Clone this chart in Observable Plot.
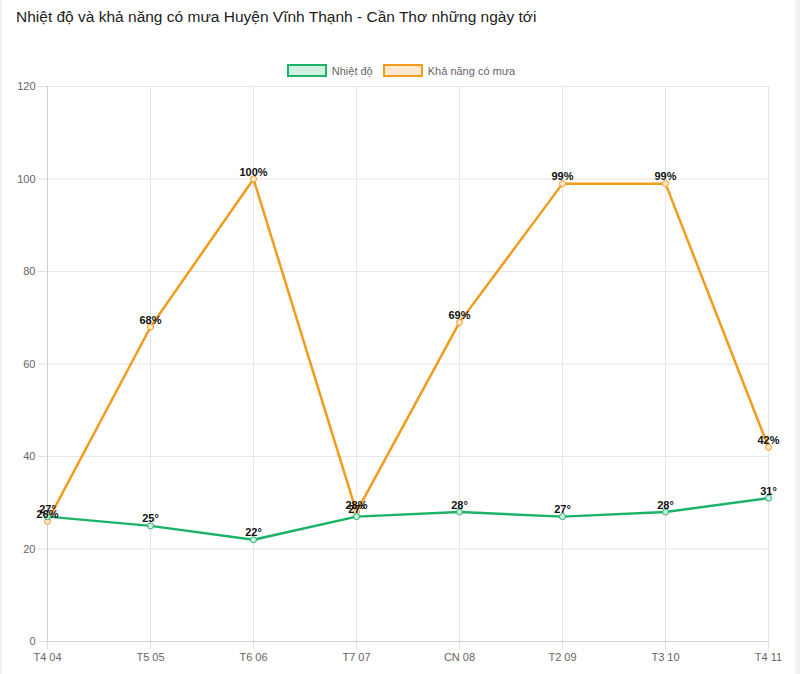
<!DOCTYPE html>
<html><head><meta charset="utf-8">
<script src="https://cdn.jsdelivr.net/npm/d3@7"></script>
<script src="https://cdn.jsdelivr.net/npm/@observablehq/plot@0.6"></script>
<style>
html,body{margin:0;padding:0;background:#f2f2f2;width:800px;height:674px;overflow:hidden;position:relative;}
#panel{position:absolute;left:2px;top:0;width:793px;height:674px;background:#fff;font-family:"Liberation Sans",Arial,sans-serif;}
#title{position:absolute;left:14px;top:8px;font-size:15.5px;color:#222;white-space:nowrap;}
#legend{position:absolute;left:0;top:64px;width:798px;display:flex;justify-content:center;gap:10px;font-size:11px;color:#666;}
.item{display:flex;align-items:center;gap:5px;}
.sw{width:36px;height:9px;border-width:2.5px;border-style:solid;}
#chart{position:absolute;left:0;top:80px;width:800px;height:594px;}
#chart svg{max-width:none !important;}
</style></head>
<body><div id="panel">
<div id="title">Nhiệt độ và khả năng có mưa Huyện Vĩnh Thạnh - Cần Thơ những ngày tới</div>
<div id="legend">
<div class="item"><span class="sw" style="border-color:#1cb368;background:#d2f0e1"></span><span>Nhiệt độ</span></div>
<div class="item"><span class="sw" style="border-color:#f39b1c;background:#fde9cf"></span><span>Khả năng có mưa</span></div>
</div>
</div>
<div id="chart"></div>
<script>
const days = ["T4 04","T5 05","T6 06","T7 07","CN 08","T2 09","T3 10","T4 11"];
const temperature = [27,25,22,27,28,27,28,31];
const rainChance = [26,68,100,28,69,99,99,42];
const yTicks = [0,20,40,60,80,100,120];

const green = "#1cb368", orange = "#f39b1c";
const tempData = days.map((d,i)=>({day:d, v:temperature[i]}));
const rainData = days.map((d,i)=>({day:d, v:rainChance[i]}));

const chart = Plot.plot({
  width: 800, height: 594,
  marginTop: 6, marginBottom: 33, marginLeft: 46, marginRight: 31,
  style: {fontFamily: '"Liberation Sans", Arial, sans-serif', fontSize: "11px", background: "transparent", maxWidth: "none"},
  x: {type: "point", domain: days, padding: 0, label: null},
  y: {domain: [0,120], label: null},
  marks: [
    Plot.ruleY(yTicks, {stroke: "#e6e6e6"}),
    Plot.ruleX(days, {y1: 0, y2: 120, stroke: "#e6e6e6"}),
    Plot.axisY(yTicks, {tickSize: 8, tickPadding: 3, stroke: "#e0e0e0", strokeOpacity: 1, color: "#666", fill: "#666", fontSize: 11}),
    Plot.axisX(days, {tickSize: 8, tickPadding: 4, stroke: "#e0e0e0", strokeOpacity: 1, color: "#666", fill: "#666", fontSize: 11}),
    Plot.ruleY([0], {stroke: "#cfcfcf"}),
    Plot.ruleX([days[0]], {y1: 0, y2: 120, stroke: "#cfcfcf"}),
    Plot.line(rainData, {x: "day", y: "v", stroke: orange, strokeWidth: 2.5}),
    Plot.line(tempData, {x: "day", y: "v", stroke: green, strokeWidth: 2.5}),
    Plot.dot(rainData, {x: "day", y: "v", r: 3, stroke: orange, fill: "#fde9cf", strokeWidth: 1}),
    Plot.dot(tempData, {x: "day", y: "v", r: 3, stroke: green, fill: "#d2f0e1", strokeWidth: 1}),
    Plot.text(tempData, {x: "day", y: "v", text: d => d.v + "°", dy: -7, fill: "#111", fontWeight: "bold", fontSize: 11, stroke: "none"}),
    Plot.text(rainData, {x: "day", y: "v", text: d => d.v + "%", dy: -7, fill: "#111", fontWeight: "bold", fontSize: 11, stroke: "none"})
  ]
});
document.getElementById("chart").appendChild(chart);
</script>
</body></html>
